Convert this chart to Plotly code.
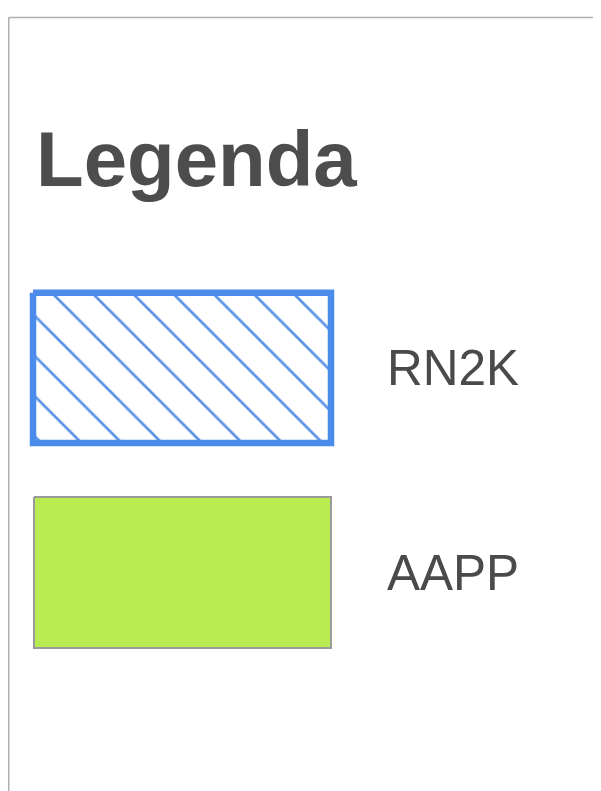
import plotly.graph_objects as go

# ---- data ----
title_text = "Legenda"
labels = ["RN2K", "AAPP"]
fill_colors = ["#ffffff", "#b9ec50"]
edge_colors = ["#4b8bea", "#9a9a9a"]
hatch_color = "#5b92e6"
patterns = ["\\", ""]

# ---- layout constants (page pixel space; page body has an 8px margin) ----
W, H = 601, 791
OFF = 8
box_x0, box_x1 = [33, 34], [331, 331]
box_y0, box_y1 = [292.7, 497], [443, 648]
edge_widths = [6.5, 2]
label_x = 385
label_y = [367.5, 572.5]
font = "Liberation Sans, Arial, Helvetica, sans-serif"

fig = go.Figure()

for i, lab in enumerate(labels):
    xs = [box_x0[i], box_x1[i], box_x1[i], box_x0[i], box_x0[i]]
    ys = [box_y0[i], box_y0[i], box_y1[i], box_y1[i], box_y0[i]]
    kw = {}
    if patterns[i]:
        kw["fillpattern"] = dict(shape=patterns[i], fgcolor=hatch_color,
                                 fgopacity=1, bgcolor=fill_colors[i],
                                 size=28.4, solidity=0.095)
    fig.add_trace(go.Scatter(
        x=xs, y=ys, mode="lines", fill="toself", fillcolor=fill_colors[i],
        line=dict(color=edge_colors[i], width=edge_widths[i]),
        hoverinfo="skip", showlegend=False, name=lab, **kw))
    fig.add_annotation(x=label_x, y=label_y[i], text=lab, showarrow=False,
                       xanchor="left", yanchor="middle", xref="x", yref="y",
                       font=dict(family=font, size=49.5, color="#4a4a4a"))

fig.add_annotation(x=34, y=159, text="<b>" + title_text + "</b>", showarrow=False,
                   xanchor="left", yanchor="middle", xref="x", yref="y",
                   font=dict(family=font, size=78, color="#4d4d4d"))

# container frame (paper coords so it is not clipped)
px = (8.75 - OFF) / W
py = 1 - (17.5 - OFF) / H
fig.add_shape(type="line", xref="paper", yref="paper", x0=px, x1=1.02, y0=py, y1=py,
              line=dict(color="#b0b0b0", width=1.5))
fig.add_shape(type="line", xref="paper", yref="paper", x0=px, x1=px, y0=py, y1=-0.02,
              line=dict(color="#b0b0b0", width=1.5))

fig.update_xaxes(range=[OFF, W + OFF], visible=False, fixedrange=True)
fig.update_yaxes(range=[H + OFF, OFF], visible=False, fixedrange=True)
fig.update_layout(width=W, height=H, margin=dict(l=0, r=0, t=0, b=0),
                  paper_bgcolor="#ffffff", plot_bgcolor="#ffffff",
                  showlegend=False)

fig.write_html("out.html", config={"displayModeBar": False})
